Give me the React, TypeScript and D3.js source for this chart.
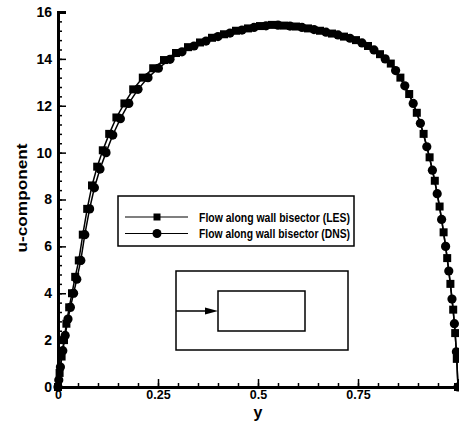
import React, { useRef, useEffect } from 'react';
import * as d3 from 'd3';

// wall-bisector velocity profile, LES (squares) and DNS (circles)
const lesY = [0, 0.004, 0.009, 0.015, 0.021, 0.028, 0.035, 0.043, 0.052, 0.062, 0.073, 0.085, 0.098, 0.112, 0.128, 0.146, 0.166, 0.188, 0.212, 0.238, 0.265, 0.295, 0.325, 0.355, 0.385, 0.415, 0.445, 0.475, 0.505, 0.535, 0.565, 0.595, 0.625, 0.655, 0.685, 0.715, 0.745, 0.775, 0.805, 0.832, 0.856, 0.878, 0.897, 0.914, 0.929, 0.942, 0.954, 0.964, 0.973, 0.981, 0.988, 0.993, 0.997, 1.0];
const lesU = [0, 0.6, 1.3, 2.0, 2.7, 3.4, 4.0, 4.7, 5.4, 6.5, 7.6, 8.6, 9.4, 10.1, 10.8, 11.5, 12.1, 12.7, 13.2, 13.6, 13.95, 14.25, 14.5, 14.7, 14.9, 15.05, 15.2, 15.3, 15.4, 15.45, 15.42, 15.38, 15.3, 15.2, 15.08, 14.95, 14.8, 14.55, 14.2, 13.8, 13.2, 12.5, 11.7, 10.8, 9.8, 8.8, 7.7, 6.6, 5.5, 4.4, 3.3, 2.3, 1.2, 0];

const dnsY = [0, 0.002, 0.006, 0.012, 0.018, 0.025, 0.031, 0.039, 0.047, 0.057, 0.067, 0.079, 0.091, 0.105, 0.12, 0.137, 0.156, 0.177, 0.2, 0.225, 0.251, 0.28, 0.31, 0.34, 0.37, 0.4, 0.43, 0.46, 0.49, 0.52, 0.55, 0.58, 0.61, 0.64, 0.67, 0.7, 0.73, 0.76, 0.79, 0.818, 0.844, 0.867, 0.888, 0.906, 0.922, 0.936, 0.948, 0.959, 0.969, 0.977, 0.985, 0.991, 0.996, 1.0];
const dnsU = [0, 0.3, 0.85, 1.55, 2.2, 2.9, 3.4, 4.0, 4.6, 5.4, 6.5, 7.6, 8.5, 9.3, 10.0, 10.75, 11.45, 12.1, 12.7, 13.2, 13.6, 13.98, 14.3, 14.55, 14.76, 14.95, 15.1, 15.23, 15.34, 15.41, 15.44, 15.4, 15.34, 15.25, 15.14, 15.02, 14.88, 14.68, 14.38, 14.0, 13.5, 12.85, 12.1, 11.25, 10.25, 9.25, 8.25, 7.15, 6.0, 4.95, 3.75, 2.7, 1.5, 0];

const xTicks = [0, 0.25, 0.5, 0.75];
const xTickLabels = ['0', '0.25', '0.5', '0.75'];
const yTicks = [0, 2, 4, 6, 8, 10, 12, 14, 16];

const legendLabels = ['Flow along wall bisector (LES)', 'Flow along wall bisector (DNS)'];

const FONT = '"Liberation Sans", Arial, sans-serif';

const App = () => {
  const svgRef = useRef<SVGSVGElement>(null);

  useEffect(() => {
    const svg = d3.select(svgRef.current);
    svg.selectAll('*').remove();

    const x = d3.scaleLinear().domain([0, 1]).range([58, 458]);
    const y = d3.scaleLinear().domain([0, 16]).range([387, 12]);

    const les = lesY.map((v, i) => ({ y: v, u: lesU[i] }));
    const dns = dnsY.map((v, i) => ({ y: v, u: dnsU[i] }));

    const line = d3.line<{ y: number; u: number }>()
      .x(d => x(d.y))
      .y(d => y(d.u));

    // x axis
    const gx = svg.append('g').attr('transform', `translate(0,${y(0)})`);
    gx.call(
      d3.axisBottom(x)
        .tickValues(d3.range(0, 1.0001, 0.05))
        .tickSize(-4)
        .tickFormat(() => '')
    );
    gx.append('g').call(
      d3.axisBottom(x)
        .tickValues(xTicks.concat([1]))
        .tickSize(-8)
        .tickPadding(3)
        .tickFormat((d, i) => xTickLabels[i] ?? '')
    );
    gx.selectAll('.domain').attr('stroke-width', 3);
    gx.selectAll('line').attr('stroke-width', 1.5);
    gx.selectAll('text')
      .attr('font-family', FONT)
      .attr('font-weight', 'bold')
      .attr('font-size', 12.5)
      .attr('fill', '#000');

    // y axis
    const gy = svg.append('g').attr('transform', `translate(${x(0)},0)`);
    gy.call(
      d3.axisLeft(y)
        .tickValues(d3.range(0, 16.001, 0.4))
        .tickSize(-4)
        .tickFormat(() => '')
    );
    gy.append('g').call(
      d3.axisLeft(y)
        .tickValues(yTicks)
        .tickSize(-8)
        .tickPadding(6)
        .tickFormat(d3.format('d'))
    );
    gy.selectAll('.domain').attr('stroke-width', 3);
    gy.selectAll('line').attr('stroke-width', 1.5);
    gy.selectAll('text')
      .attr('font-family', FONT)
      .attr('font-weight', 'bold')
      .attr('font-size', 14)
      .attr('fill', '#000');

    // axis titles
    svg.append('text')
      .attr('x', 258)
      .attr('y', 418)
      .attr('text-anchor', 'middle')
      .attr('font-family', FONT)
      .attr('font-weight', 'bold')
      .attr('font-size', 16)
      .text('y');

    svg.append('text')
      .attr('transform', 'translate(27,198) rotate(-90)')
      .attr('text-anchor', 'middle')
      .attr('font-family', FONT)
      .attr('font-weight', 'bold')
      .attr('font-size', 14)
      .attr('textLength', 109)
      .attr('lengthAdjust', 'spacingAndGlyphs')
      .text('u-component');

    // curves
    [les, dns].forEach(s => {
      svg.append('path')
        .datum(s)
        .attr('fill', 'none')
        .attr('stroke', '#000')
        .attr('stroke-width', 1.5)
        .attr('d', line);
    });

    svg.selectAll('.les')
      .data(les)
      .enter().append('rect')
      .attr('x', d => x(d.y) - 4)
      .attr('y', d => y(d.u) - 4)
      .attr('width', 8)
      .attr('height', 8)
      .attr('fill', '#000');

    svg.selectAll('.dns')
      .data(dns)
      .enter().append('circle')
      .attr('cx', d => x(d.y))
      .attr('cy', d => y(d.u))
      .attr('r', 4.6)
      .attr('fill', '#000');

    // legend
    const lg = svg.append('g');
    lg.append('rect')
      .attr('x', 118).attr('y', 196)
      .attr('width', 236).attr('height', 50)
      .attr('fill', '#fff')
      .attr('stroke', '#000')
      .attr('stroke-width', 1.5);
    legendLabels.forEach((lab, i) => {
      const ly = 217 + i * 16.5;
      lg.append('line')
        .attr('x1', 125).attr('x2', 188)
        .attr('y1', ly).attr('y2', ly)
        .attr('stroke', '#000')
        .attr('stroke-width', 1.2);
      if (i === 0) {
        lg.append('rect')
          .attr('x', 153.5).attr('y', ly - 3.5)
          .attr('width', 7).attr('height', 7)
          .attr('fill', '#000');
      } else {
        lg.append('circle')
          .attr('cx', 157).attr('cy', ly).attr('r', 4.5)
          .attr('fill', '#000');
      }
      lg.append('text')
        .attr('x', 199).attr('y', ly + 4.5)
        .attr('font-family', FONT)
        .attr('font-weight', 'bold')
        .attr('font-size', 12.5)
        .attr('textLength', 151)
        .attr('lengthAdjust', 'spacingAndGlyphs')
        .text(lab);
    });

    // inset sketch
    const ins = svg.append('g').attr('fill', 'none').attr('stroke', '#000').attr('stroke-width', 1.5);
    ins.append('rect').attr('x', 176).attr('y', 271).attr('width', 172).attr('height', 79);
    ins.append('rect').attr('x', 218).attr('y', 291).attr('width', 87).attr('height', 40);
    ins.append('line').attr('x1', 176).attr('x2', 210).attr('y1', 311).attr('y2', 311);
    svg.append('path')
      .attr('d', 'M205,307.5 L218,311 L205,314.5 Z')
      .attr('fill', '#000');
  }, []);

  return (
    <svg
      ref={svgRef}
      width={459}
      height={427}
      style={{ position: 'absolute', left: 0, top: 0, background: '#fff' }}
    />
  );
};

export default App;
